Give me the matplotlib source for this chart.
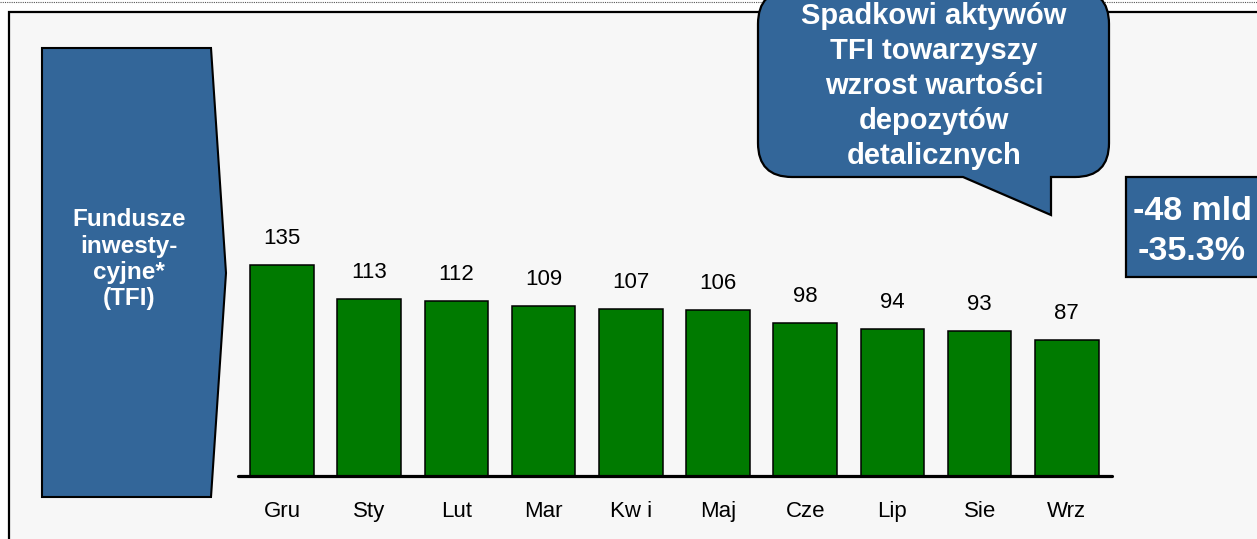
import matplotlib
matplotlib.use("Agg")
import matplotlib.pyplot as plt
from matplotlib.patches import Rectangle, Polygon, PathPatch
from matplotlib.path import Path

# ---- data ----
months = ["Gru", "Sty", "Lut", "Mar", "Kw i", "Maj", "Cze", "Lip", "Sie", "Wrz"]
values = [135, 113, 112, 109, 107, 106, 98, 94, 93, 87]
arrow_lines = ["Fundusze", "inwesty-", "cyjne*", "(TFI)"]
callout_lines = ["Spadkowi aktywów", "TFI towarzyszy", "wzrost wartości", "depozytów", "detalicznych"]
change_lines = ["-48 mld", "-35.3%"]

BLUE = "#336699"
GREEN = "#007A00"
FONT = "Liberation Sans"

W, H = 1257, 539
fig = plt.figure(figsize=(W / 100, H / 100), dpi=100)
fig.patch.set_facecolor("white")

# background / decoration axes in pixel coordinates
bg = fig.add_axes([0, 0, 1, 1])
bg.set_xlim(0, W)
bg.set_ylim(H, 0)
bg.axis("off")

# dotted line at top
bg.plot([0, W], [2, 2], color="#555555", lw=0.8, ls=(0, (1, 1)), zorder=1)
# frame
bg.add_patch(Rectangle((9, 12), 1400, 700, facecolor="#F7F7F7", edgecolor="black",
                       lw=1.6, zorder=2, clip_on=False))

# left pentagon arrow
bg.add_patch(Polygon([(42, 48), (211, 48), (226, 273), (211, 497), (42, 497)],
                     closed=True, facecolor=BLUE, edgecolor="black", lw=1.5, zorder=3))
arrow_y = [219, 246, 272, 298]
for t, y in zip(arrow_lines, arrow_y):
    bg.text(129, y, t, color="white", fontsize=17.5, fontweight="bold", family=FONT,
            ha="center", va="center", zorder=4)

# callout with tail
x0, x1, y0, y1, r = 758, 1109, -10, 177, 34
verts = [(x0 + r, y0), (x1 - r, y0), (x1, y0), (x1, y0 + r), (x1, y1 - r), (x1, y1),
         (x1 - r, y1), (1051, y1), (1051, 215), (963, y1), (x0 + r, y1), (x0, y1),
         (x0, y1 - r), (x0, y0 + r), (x0, y0), (x0 + r, y0), (x0 + r, y0)]
codes = [Path.MOVETO, Path.LINETO, Path.CURVE3, Path.CURVE3, Path.LINETO, Path.CURVE3,
         Path.CURVE3, Path.LINETO, Path.LINETO, Path.LINETO, Path.LINETO, Path.CURVE3,
         Path.CURVE3, Path.LINETO, Path.CURVE3, Path.CURVE3, Path.CLOSEPOLY]
bg.add_patch(PathPatch(Path(verts, codes), facecolor=BLUE, edgecolor="black", lw=1.6,
                       zorder=5, clip_on=False))
call_y = [16, 51, 86, 121, 156]
for t, y in zip(callout_lines, call_y):
    bg.text(934, y, t, color="white", fontsize=21, fontweight="bold", family=FONT,
            ha="center", va="center", zorder=6)

# right change box
bg.add_patch(Rectangle((1126, 177), 200, 100, facecolor=BLUE, edgecolor="black",
                       lw=1.6, zorder=5, clip_on=False))
for t, y in zip(change_lines, [211, 251]):
    bg.text(1192, y, t, color="white", fontsize=24.5, fontweight="bold", family=FONT,
            ha="center", va="center", zorder=6)

# ---- bar chart ----
base_px = 476
left_px, right_px = 238, 1112
ax_h_px = 260
px_per_unit = 1.563
ax = fig.add_axes([left_px / W, (H - base_px) / H, (right_px - left_px) / W, ax_h_px / H])
ax.patch.set_alpha(0)
x = list(range(len(months)))
ax.bar(x, values, width=0.73, color=GREEN, edgecolor="black", linewidth=1.1, zorder=2)
ax.set_xlim(-0.505, 9.518)
ax.set_ylim(0, ax_h_px / px_per_unit)
for xi, v in zip(x, values):
    ax.annotate(str(v), (xi, v), xytext=(0, 21), textcoords="offset pixels",
                ha="center", va="baseline", fontsize=16, family=FONT, color="black")
ax.set_xticks(x)
ax.set_xticklabels(months, fontsize=16, family=FONT)
ax.tick_params(axis="x", length=0, pad=18)
ax.set_yticks([])
for s in ["left", "right", "top"]:
    ax.spines[s].set_visible(False)
ax.spines["bottom"].set_linewidth(2.3)
ax.spines["bottom"].set_capstyle("round")
ax.spines["bottom"].set_zorder(3)

fig.savefig("out.png", dpi=100, facecolor="white")
